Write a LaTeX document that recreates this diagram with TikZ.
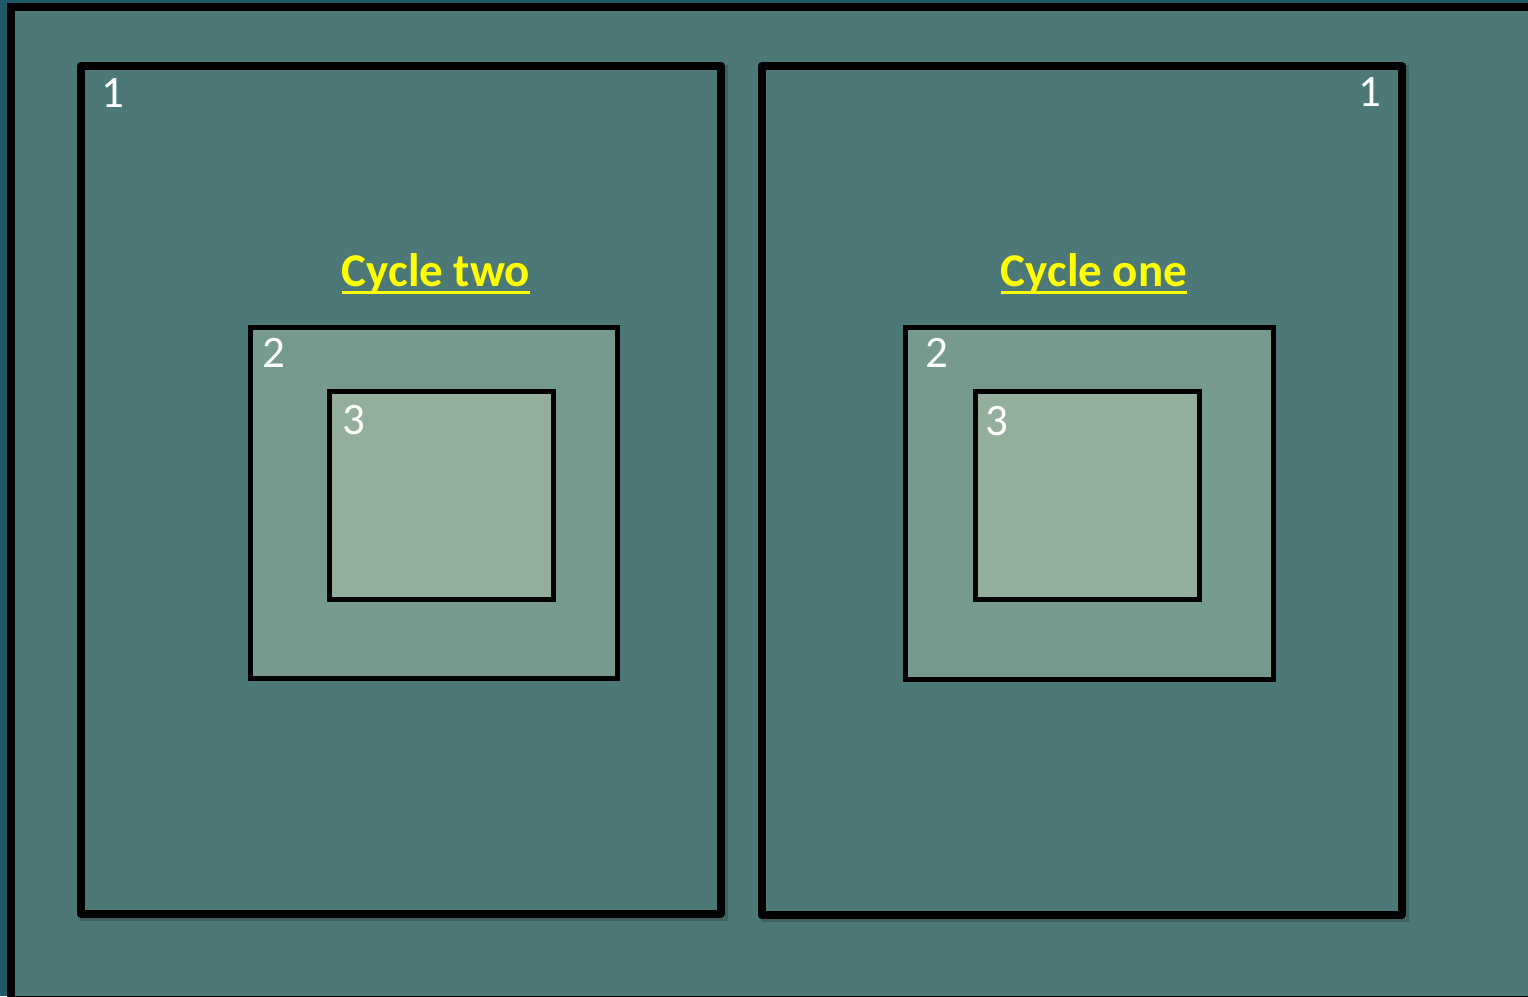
\documentclass[tikz,border=0pt]{standalone}
\usepackage{fontspec}
\setmainfont{Carlito}
\definecolor{darkedge}{HTML}{1F5866}
\definecolor{bgteal}{HTML}{4C7878}
\definecolor{midgreen}{HTML}{769A8E}
\definecolor{lightgreen}{HTML}{93AF9C}
\definecolor{titleyellow}{HTML}{FFFF00}
\tikzset{
  bigbox/.style={draw=black, line width=8pt, line join=round},
  boxshadow/.style={draw=black, line width=8pt, opacity=0.18},
  midbox/.style={draw=black, line width=5pt, fill=midgreen},
  smallbox/.style={draw=black, line width=5pt, fill=lightgreen},
  numlabel/.style={text=white, font=\fontsize{45}{45}\selectfont, inner sep=0pt},
  cycletitle/.style={text=titleyellow, font=\fontsize{47}{47}\selectfont\bfseries, inner sep=0pt, anchor=base},
  underline/.style={draw=titleyellow, line width=3.5pt},
}
\begin{document}
\begin{tikzpicture}[x=1pt,y=-1pt]
\useasboundingbox (0,0) rectangle (1528,996);
\fill[darkedge] (0,0) rectangle (1528,996);
\path[fill=bgteal, draw=black, line width=8pt] (11,7) rectangle (1532,999.5);
% shadows, outside the boxes only
\begin{scope}[even odd rule]
\clip (0,0) rectangle (1528,996) (77,61.5) rectangle (725,918);
\path[boxshadow] (84,69) rectangle (724,917);
\end{scope}
\begin{scope}[even odd rule]
\clip (0,0) rectangle (1528,996) (757.5,62) rectangle (1406,919);
\path[boxshadow] (764.5,69) rectangle (1405,918);
\end{scope}
% big boxes
\path[bigbox] (81,65.5) rectangle (721,914);
\path[bigbox] (761.5,66) rectangle (1402,915);
% inner boxes
\path[midbox] (250,327) rectangle (617.5,678.5);
\path[smallbox] (329.5,391.5) rectangle (553,599.5);
\path[midbox] (905.5,327) rectangle (1273.5,679.5);
\path[smallbox] (975,391.5) rectangle (1199.5,599);
% labels
\node[numlabel] (l1a) at (113,93) {1};
\node[numlabel] (l1b) at (1370,92) {1};
\node[numlabel] (l2a) at (274,353) {2};
\node[numlabel] (l3a) at (353.5,420) {3};
\node[numlabel] (l2b) at (937,353) {2};
\node[numlabel] (l3b) at (996.5,421) {3};
\node[cycletitle] (ctwo) at (436,286) {Cycle two};
\node[cycletitle] (cone) at (1094,286) {Cycle one};
\path[underline] ([yshift=-6.5pt]ctwo.base west) -- ([yshift=-6.5pt]ctwo.base east);
\path[underline] ([yshift=-6.5pt]cone.base west) -- ([yshift=-6.5pt]cone.base east);
\end{tikzpicture}
\end{document}
